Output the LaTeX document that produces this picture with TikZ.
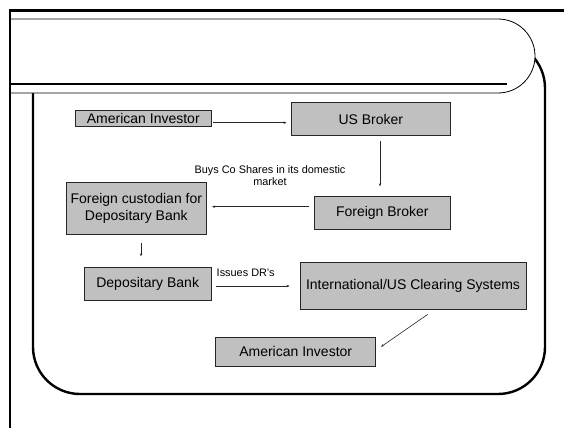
\documentclass[tikz,border=0pt]{standalone}
\usepackage{fontspec}
\setmainfont{Liberation Sans}
\usetikzlibrary{arrows.meta,calc}
\definecolor{boxgray}{RGB}{192,192,192}
\tikzset{
  box/.style={draw=black!85, line width=0.8pt, fill=boxgray, inner sep=0pt, align=center,
    font=\fontsize{14}{16.7}\selectfont},
  arr/.style={draw=black!85, line width=0.6pt, -{Stealth[length=3pt,width=2.4pt]}},
  lbl/.style={inner sep=0pt, align=center, font=\fontsize{10.9}{12}\selectfont}
}
\begin{document}
\begin{tikzpicture}[x=1pt,y=-1pt]
\useasboundingbox (0,0) rectangle (564,428);
% body rounded frame
\draw[line width=2.4pt, rounded corners=47pt] (33,41) rectangle (545,394);
% title shape
\draw[line width=0.8pt, fill=white] (10,19) -- (498,19) arc[start angle=90, end angle=-90, radius=37pt] -- (10,93) -- cycle;
\draw[line width=1.8pt] (10,84) -- (507,84);
% outer frame lines
\draw[line width=2.2pt] (564,10.5) -- (10,10.5) -- (10,428);
% boxes
\node[box, minimum width=136.7pt, minimum height=16.7pt] (ai1) at (143.3,118.3) {American Investor};
\node[box, minimum width=159.7pt, minimum height=33pt] (usb) at (370.8,119.2) {US Broker};
\node[box, minimum width=136.7pt, minimum height=32.6pt] (fb) at (382.3,213) {Foreign Broker};
\node[box, minimum width=140.7pt, minimum height=51.6pt] (fc) at (136.3,208.5) {Foreign custodian for\\Depositary Bank};
\node[box, minimum width=126.7pt, minimum height=32.7pt] (db) at (147.7,283.7) {Depositary Bank};
\node[box, minimum width=226pt, minimum height=47pt] (cs) at (413,285.8) {International/US Clearing Systems};
\node[box, minimum width=160pt, minimum height=28.7pt] (ai2) at (295.7,351.7) {American Investor};
% labels
\node[lbl] (l1) at (270,176) {Buys Co Shares in its domestic\\market};
\node[lbl] (l2) at (245.7,272.7) {Issues DR’s};
% arrows
\draw[arr, shorten <=1.3pt, shorten >=4pt] ([yshift=-4.4pt]ai1.east) -- ([yshift=-4.4pt]ai1.east -| usb.west);
\draw[arr, shorten <=5pt, shorten >=10pt] ([xshift=9.2pt]usb.south) -- ([xshift=9.2pt]usb.south |- fb.north);
\draw[arr, shorten <=5pt, shorten >=5pt] ([yshift=6.3pt]fb.west) -- ([yshift=6.3pt]fb.west -| fc.east);
\draw[arr, shorten <=8.7pt, shorten >=10.6pt] ([xshift=4.7pt]fc.south) -- ([xshift=4.7pt]fc.south |- db.north);
\draw[arr, shorten <=5pt, shorten >=10pt] ([yshift=-2.3pt]db.east) -- ([yshift=-2.3pt]db.east -| cs.west);
\draw[arr] ([shift={(14.7pt,-4.7pt)}]cs.south) -- ([shift={(5pt,5pt)}]ai2.east);
\end{tikzpicture}
\end{document}
